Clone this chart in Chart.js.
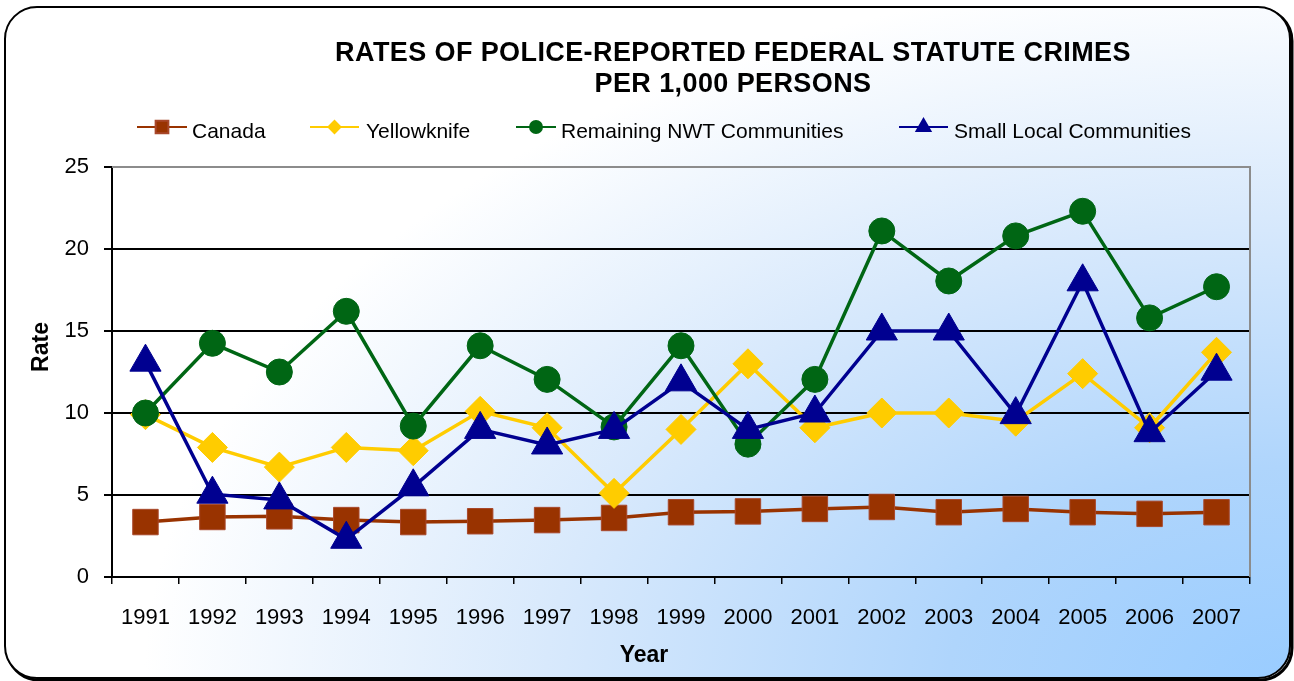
<!DOCTYPE html>
<html>
<head>
<meta charset="utf-8">
<script src="https://cdn.jsdelivr.net/npm/chart.js@4.4.1/dist/chart.umd.min.js"></script>
<style>
  html, body { margin: 0; padding: 0; background: #fff; }
  #wrap { width: 1294px; height: 681px; }
</style>
</head>
<body>
<div id="wrap"><canvas id="crimeChart" width="1294" height="681"></canvas></div>
<script>
// ===== DATA =====
const years = ["1991", "1992", "1993", "1994", "1995", "1996", "1997", "1998", "1999",
  "2000", "2001", "2002", "2003", "2004", "2005", "2006", "2007"];
const canada = [3.35, 3.66, 3.7, 3.47, 3.35, 3.4, 3.47, 3.6, 3.95, 4.0, 4.15, 4.27, 3.95, 4.15, 3.95, 3.85, 3.95];
const yellowknife = [9.9, 7.9, 6.7, 7.9, 7.7, 10.1, 9.1, 5.1, 9.0, 13.0, 9.1, 10.0, 10.0, 9.5, 12.4, 9.1, 13.7];
const remainingNwt = [10.0, 14.25, 12.5, 16.2, 9.2, 14.1, 12.05, 9.15, 14.1, 8.1, 12.05, 21.1, 18.05, 20.8, 22.3, 15.8, 17.7];
const smallLocal = [13.1, 5.05, 4.7, 2.3, 5.5, 9.0, 8.05, 9.0, 11.9, 9.0, 10.0, 15.0, 15.0, 9.9, 18.0, 8.8, 12.55];
const seriesNames = ["Canada", "Yellowknife", "Remaining NWT Communities", "Small Local Communities"];
const titleLines = ["RATES OF POLICE-REPORTED FEDERAL STATUTE CRIMES", "PER 1,000 PERSONS"];
const yMin = 0, yMax = 25, yStep = 5;

const FONT = "'Liberation Sans', Arial, Helvetica, sans-serif";

// ===== BACKGROUND / TITLE / LEGEND =====
function roundRect(ctx, x, y, w, h, r) {
  ctx.beginPath();
  ctx.moveTo(x + r, y);
  ctx.lineTo(x + w - r, y);
  ctx.arcTo(x + w, y, x + w, y + r, r);
  ctx.lineTo(x + w, y + h - r);
  ctx.arcTo(x + w, y + h, x + w - r, y + h, r);
  ctx.lineTo(x + r, y + h);
  ctx.arcTo(x, y + h, x, y + h - r, r);
  ctx.lineTo(x, y + r);
  ctx.arcTo(x, y, x + r, y, r);
  ctx.closePath();
}

const frame = {
  id: "frame",
  beforeDraw(chart) {
    const ctx = chart.ctx;
    ctx.save();
    ctx.fillStyle = "#fff";
    ctx.fillRect(0, 0, chart.width, chart.height);

    // shadow edge
    roundRect(ctx, 7, 9, 1285, 671, 32);
    ctx.strokeStyle = "#000";
    ctx.lineWidth = 3;
    ctx.stroke();

    // elliptic gradient from the bottom-right corner
    ctx.save();
    roundRect(ctx, 5, 7, 1285, 671, 32);
    ctx.fillStyle = "#fff";
    ctx.fill();
    ctx.clip();
    ctx.translate(1294, 681);
    ctx.scale(1, 0.62);
    const g = ctx.createRadialGradient(0, 0, 0, 0, 0, 1150);
    g.addColorStop(0, "#99ccff");
    g.addColorStop(0.3, "#afd5fc");
    g.addColorStop(0.65, "#d8e9fc");
    g.addColorStop(1, "#ffffff");
    ctx.fillStyle = g;
    ctx.fillRect(-2000, -2000, 4000, 4000);
    ctx.restore();

    roundRect(ctx, 5, 7, 1285, 671, 32);
    ctx.strokeStyle = "#000";
    ctx.lineWidth = 2;
    ctx.stroke();
    ctx.restore();
  },
  beforeDatasetsDraw(chart) {
    // grey plot border (top / right)
    const { ctx, chartArea: a } = chart;
    ctx.save();
    ctx.strokeStyle = "#8c8c8c";
    ctx.lineWidth = 2;
    ctx.beginPath();
    ctx.moveTo(a.left, a.top);
    ctx.lineTo(a.right, a.top);
    ctx.lineTo(a.right, a.bottom);
    ctx.stroke();
    ctx.restore();
  },
  afterDraw(chart) {
    const ctx = chart.ctx;
    ctx.save();
    ctx.fillStyle = "#000";
    // title
    ctx.font = "bold 27px " + FONT;
    ctx.textAlign = "center";
    ctx.textBaseline = "alphabetic";
    ctx.letterSpacing = "0.4px";
    ctx.fillText(titleLines[0], 733, 61);
    ctx.fillText(titleLines[1], 733, 92);
    ctx.letterSpacing = "0px";

    // axis titles
    ctx.font = "bold 23px " + FONT;
    ctx.fillText("Year", 644, 662);
    ctx.save();
    ctx.translate(48, 347);
    ctx.rotate(-Math.PI / 2);
    ctx.fillText("Rate", 0, 0);
    ctx.restore();

    // legend
    const items = [
      { x0: 137, x1: 187, tx: 192 },
      { x0: 310, x1: 359, tx: 366 },
      { x0: 516, x1: 556, tx: 561 },
      { x0: 899, x1: 948, tx: 954 },
    ];
    const ly = 127;
    ctx.font = "21px " + FONT;
    ctx.textAlign = "left";
    chart.data.datasets.forEach((ds, i) => {
      const it = items[i];
      ctx.strokeStyle = ds.borderColor;
      ctx.lineWidth = 2;
      ctx.beginPath();
      ctx.moveTo(it.x0, ly);
      ctx.lineTo(it.x1, ly);
      ctx.stroke();
      ctx.fillStyle = ds.pointBackgroundColor;
      ctx.strokeStyle = ds.pointBorderColor;
      Chart.helpers.drawPoint(ctx, {
        pointStyle: ds.pointStyle,
        radius: ds.legendRadius,
        rotation: 0,
        borderWidth: 1,
      }, (it.x0 + it.x1) / 2, ly);
      ctx.fillStyle = "#000";
      ctx.fillText(ds.label, it.tx, 138);
    });
    ctx.restore();
  },
};

// ===== CHART =====
const ctx = document.getElementById("crimeChart").getContext("2d");
new Chart(ctx, {
  type: "line",
  data: {
    labels: years,
    datasets: [
      {
        label: seriesNames[0],
        data: canada,
        borderColor: "#993300",
        pointBackgroundColor: "#993300",
        pointBorderColor: "#a8472a",
        pointStyle: "rect",
        pointRadius: 18,
        legendRadius: 9,
        order: 3,
      },
      {
        label: seriesNames[1],
        data: yellowknife,
        borderColor: "#ffcc00",
        pointBackgroundColor: "#ffcc00",
        pointBorderColor: "#ffcc00",
        pointStyle: "rectRot",
        pointRadius: 15,
        legendRadius: 6,
        order: 2,
      },
      {
        label: seriesNames[2],
        data: remainingNwt,
        borderColor: "#006614",
        pointBackgroundColor: "#006614",
        pointBorderColor: "#006614",
        pointStyle: "circle",
        pointRadius: 13,
        legendRadius: 6,
        order: 1,
      },
      {
        label: seriesNames[3],
        data: smallLocal,
        borderColor: "#000090",
        pointBackgroundColor: "#000090",
        pointBorderColor: "#000090",
        pointStyle: "triangle",
        pointRadius: 18,
        legendRadius: 8,
        order: 0,
      },
    ].map((d) => Object.assign({ borderWidth: 3.5, pointBorderWidth: 1, tension: 0, fill: false }, d)),
  },
  options: {
    responsive: false,
    animation: false,
    devicePixelRatio: 1,
    layout: { padding: { left: 0, right: 44, top: 167, bottom: 0 } },
    plugins: {
      legend: { display: false },
      title: { display: false },
      tooltip: { enabled: false },
    },
    scales: {
      x: {
        offset: true,
        afterFit: (s) => { s.height = 104; },
        border: { color: "#000", width: 2 },
        grid: {
          offset: true,
          drawOnChartArea: false,
          color: "#000",
          lineWidth: 1.5,
          tickLength: 7,
        },
        ticks: {
          color: "#000",
          font: { family: FONT, size: 22 },
          padding: 21,
          autoSkip: false,
          maxRotation: 0,
        },
      },
      y: {
        min: yMin,
        max: yMax,
        afterFit: (s) => { s.width = 112; },
        border: { color: "#000", width: 2 },
        grid: {
          color: (c) => (c.tick && c.tick.value === yMax ? "#8c8c8c" : "#000"),
          tickColor: "#000",
          lineWidth: 2,
          tickLength: 8,
        },
        ticks: {
          stepSize: yStep,
          color: "#000",
          font: { family: FONT, size: 22 },
          padding: 15,
        },
      },
    },
  },
  plugins: [frame],
});
</script>
</body>
</html>
